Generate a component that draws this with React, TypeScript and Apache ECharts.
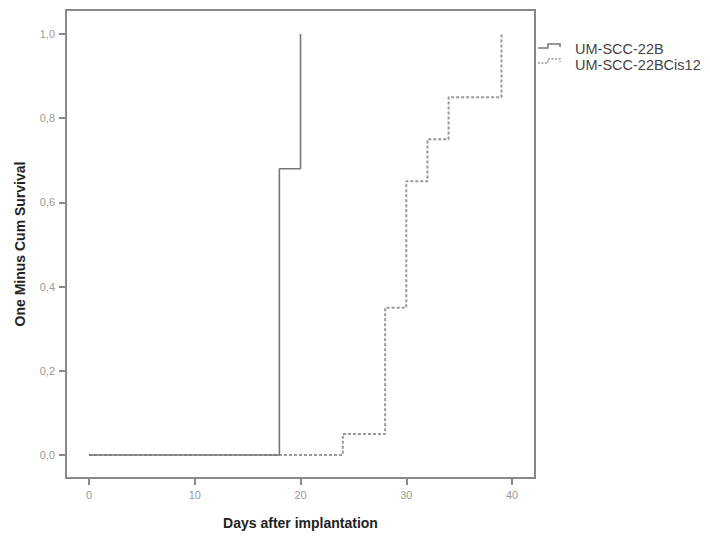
import React, { useEffect, useRef } from "react";
import * as echarts from "echarts";

const seriesNames = ["UM-SCC-22B", "UM-SCC-22BCis12"];
const daysA = [0, 18, 20];
const valuesA = [0, 0.68, 1.0];
const daysB = [0, 24, 28, 30, 32, 34, 39];
const valuesB = [0, 0.05, 0.35, 0.65, 0.75, 0.85, 1.0];
const xTicks = [0, 10, 20, 30, 40];
const yTicks = [0, 0.2, 0.4, 0.6, 0.8, 1.0];

const FONT = "'Liberation Sans', Arial, sans-serif";

export default function App() {
  const ref = useRef<HTMLDivElement>(null);
  useEffect(() => {
    if (!ref.current) return;
    const chart = echarts.init(ref.current, undefined, { renderer: "svg" });
    const dataA = daysA.map((d, i) => [d, valuesA[i]]);
    const dataB = daysB.map((d, i) => [d, valuesB[i]]);
    chart.setOption({
      animation: false,
      backgroundColor: "#ffffff",
      grid: {
        left: 66,
        right: 175,
        top: 10,
        bottom: 60,
        show: true,
        borderColor: "#888",
        borderWidth: 2,
        backgroundColor: "transparent",
        containLabel: false,
        outerBoundsMode: "none",
      },
      xAxis: {
        type: "value",
        min: -2.175,
        max: 42.17,
        axisLine: { show: true, onZero: false, lineStyle: { color: "#888", width: 2 } },
        axisTick: { show: true, length: 7, customValues: xTicks, lineStyle: { color: "#888", width: 2 } },
        splitLine: { show: false },
        axisLabel: { color: "#999", fontSize: 11, fontFamily: FONT, margin: 11, customValues: xTicks },
        name: "Days after implantation",
        nameLocation: "middle",
        nameGap: 38,
        nameTextStyle: { color: "#222", fontSize: 14, fontWeight: "bold", fontFamily: FONT },
      },
      yAxis: {
        type: "value",
        min: -0.0546,
        max: 1.057,
        axisLine: { show: true, onZero: false, lineStyle: { color: "#888", width: 2 } },
        axisTick: { show: true, length: 7, customValues: yTicks, lineStyle: { color: "#888", width: 2 } },
        splitLine: { show: false },
        axisLabel: {
          color: "#999",
          fontSize: 11,
          fontFamily: FONT,
          margin: 11,
          customValues: yTicks,
          formatter: (v: number) => v.toFixed(1).replace(".", ","),
        },
        name: "One Minus Cum Survival",
        nameLocation: "middle",
        nameGap: 39,
        nameTextStyle: { color: "#222", fontSize: 14, fontWeight: "bold", fontFamily: FONT },
      },
      legend: {
        show: true,
        orient: "vertical",
        left: 570,
        top: 41,
        icon: "none",
        itemWidth: 0,
        itemHeight: 10,
        itemGap: 1,
        padding: 0,
        textStyle: { color: "#444", fontSize: 14.5, fontFamily: FONT },
        data: seriesNames,
      },
      graphic: [
        {
          type: "polyline",
          shape: { points: [[538, 48], [548, 48], [548, 44], [560, 44], [560, 47]] },
          style: { fill: "none", stroke: "#777", lineWidth: 1.5 },
          silent: true,
        },
        {
          type: "polyline",
          shape: { points: [[538, 63], [548, 63], [548, 59], [560, 59], [560, 62]] },
          style: { fill: "none", stroke: "#999", lineWidth: 1.5, lineDash: [2, 1.5] },
          silent: true,
        },
      ],
      series: [
        {
          name: seriesNames[1],
          type: "line",
          step: "end",
          data: dataB,
          showSymbol: false,
          symbol: "none",
          lineStyle: { color: "#999", width: 2, type: [3, 2] },
          itemStyle: { color: "#999" },
          z: 2,
        },
        {
          name: seriesNames[0],
          type: "line",
          step: "end",
          data: dataA,
          showSymbol: false,
          symbol: "none",
          lineStyle: { color: "#777", width: 1.6 },
          itemStyle: { color: "#777" },
          z: 3,
        },
      ],
    });
    return () => chart.dispose();
  }, []);
  return <div ref={ref} style={{ width: 710, height: 538, position: "absolute", left: 0, top: 0 }} />;
}
